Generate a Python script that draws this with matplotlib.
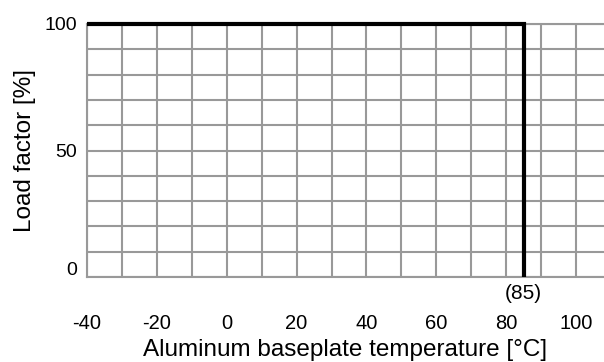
import numpy as np
import matplotlib
matplotlib.use("Agg")
import matplotlib.pyplot as plt
from matplotlib.transforms import ScaledTranslation

plt.rcParams['font.family'] = ['Liberation Sans', 'DejaVu Sans']

# derating curve: load factor vs baseplate temperature
temp_c = [-40, 85, 85]
load_pct = [100, 100, 0]
x_ticks = list(range(-40, 101, 10))
x_labels = [str(v) if v % 20 == 0 else '' for v in x_ticks]
y_ticks = list(range(0, 101, 10))
y_labels = [str(v) if v % 50 == 0 else '' for v in y_ticks]
mark_x = 85
mark_label = '(85)'

fig = plt.figure(figsize=(6.04, 3.62), dpi=100)
ax = fig.add_axes([87/604, 85/362, 1 - 87/604, 253/362])

grid_col = '#999999'
ax.set_xlim(-40, 108)
ax.set_ylim(0, 100)
ax.set_xticks(x_ticks)
ax.set_xticklabels(x_labels)
ax.set_yticks(y_ticks)
ax.set_yticklabels(y_labels)
ax.tick_params(length=0, labelsize=14)
ax.tick_params(axis='x', pad=26.5, labelsize=14.5)
ax.tick_params(axis='y', pad=7)
ax.grid(True, color=grid_col, linewidth=1.5)
ax.set_axisbelow(True)

for side in ['left', 'bottom', 'top']:
    ax.spines[side].set_color(grid_col)
    ax.spines[side].set_linewidth(1.5)
ax.spines['right'].set_visible(False)

ax.plot(temp_c, load_pct, color='black', linewidth=3, clip_on=False,
        zorder=5, solid_joinstyle='miter', solid_capstyle='butt')

ax.annotate(mark_label, xy=(mark_x, 0), xytext=(0, -12), textcoords='offset points',
            ha='center', va='center', fontsize=15)

# the "0" label sits a bit higher than its grid line
for lab in ax.get_yticklabels():
    if lab.get_text() == '0':
        lab.set_transform(lab.get_transform() + ScaledTranslation(0, 6/72, fig.dpi_scale_trans))

ax.set_xlabel('Aluminum baseplate temperature [°C]', fontsize=17.5, labelpad=4.5)
ax.set_ylabel('Load factor [%]', fontsize=17.5, labelpad=6)

fig.savefig('out.png', dpi=100)
